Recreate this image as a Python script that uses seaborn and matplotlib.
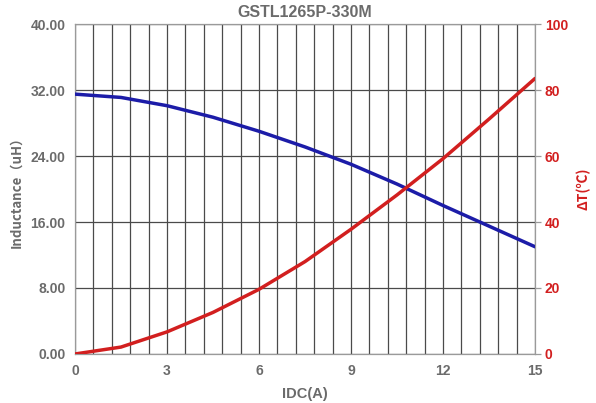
import matplotlib
matplotlib.use("Agg")
import matplotlib.pyplot as plt
import seaborn as sns
import pandas as pd
import numpy as np

# values
idc = [0, 1.5, 3, 4.5, 6, 7.5, 9, 10.5, 12, 13.5, 15]
inductance = [31.5, 31.1, 30.1, 28.7, 27.0, 25.1, 23.0, 20.6, 18.0, 15.5, 13.0]
delta_t = [0, 2.1, 6.7, 12.6, 19.6, 28.0, 37.8, 48.2, 59.2, 71.2, 83.5]

title = "GSTL1265P-330M"
x_ticks = [0, 3, 6, 9, 12, 15]
left_ticks = [0, 8, 16, 24, 32, 40]
right_ticks = [0, 20, 40, 60, 80, 100]

gray = "#6b6b6b"
blue = "#1c1ca8"
red = "#d21f1f"

sns.set_style("white")
plt.rcParams["font.family"] = ["Liberation Sans", "DejaVu Sans"]

df = pd.DataFrame({"IDC": idc, "L": inductance, "T": delta_t})

fig = plt.figure(figsize=(5.96, 4.03), dpi=100)
ax = fig.add_axes([0.1258, 0.1216, 0.7719, 0.8188])

# grid: vertical every 0.6 A, horizontal every 8 uH
for xv in np.arange(0, 15.01, 0.6):
    ax.axvline(xv, color="#4a4a4a", lw=0.9, zorder=0)
for yv in left_ticks:
    ax.axhline(yv, color="#4a4a4a", lw=0.9, zorder=0)

sns.lineplot(data=df, x="IDC", y="L", ax=ax, color=blue, lw=2.5, zorder=3)
ax.set_xlim(0, 15)
ax.set_ylim(0, 40)
ax.set_xticks(x_ticks)
ax.set_yticks(left_ticks)
ax.set_yticklabels([f"{v:.2f}" for v in left_ticks])
ax.tick_params(axis="both", length=0, pad=7, labelsize=10, labelcolor=gray)
for lab in ax.get_xticklabels() + ax.get_yticklabels():
    lab.set_fontweight("bold")
ax.set_xlabel("IDC(A)", color=gray, fontsize=10.5, fontweight="bold", labelpad=7)
ax.set_ylabel("Inductance（uH）", color=gray, fontsize=9.5, fontweight="bold",
              family=["Noto Sans CJK SC", "DejaVu Sans"], labelpad=5)
for s in ax.spines.values():
    s.set_color("#9a9a9a")
    s.set_linewidth(0.9)

ax2 = ax.twinx()
sns.lineplot(data=df, x="IDC", y="T", ax=ax2, color=red, lw=2.5, zorder=3)
ax2.set_ylim(0, 100)
ax2.set_yticks(right_ticks)
ax2.tick_params(axis="y", length=4, width=0.9, color="#9a9a9a", pad=3,
                labelsize=10, labelcolor=red)
for lab in ax2.get_yticklabels():
    lab.set_fontweight("bold")
ax2.set_ylabel("ΔT(℃)", color=red, fontsize=10, fontweight="bold",
               family=["Noto Sans CJK SC", "DejaVu Sans"], labelpad=6)
for s in ax2.spines.values():
    s.set_visible(False)

ax.set_title(title, color=gray, fontsize=11.5, fontweight="bold", pad=5)

fig.savefig("out.png", dpi=100)
